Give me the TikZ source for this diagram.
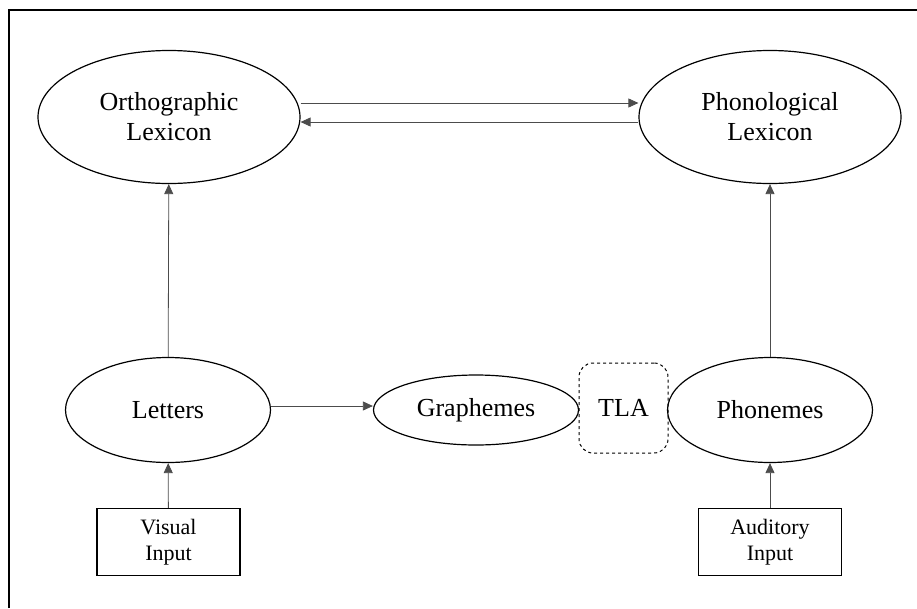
\documentclass[tikz,border=0pt]{standalone}
\usepackage{fontspec}
\setmainfont{Liberation Serif}
\usetikzlibrary{shapes.geometric,arrows.meta}

\tikzset{
  lex/.style={ellipse,draw,line width=1.2pt,inner sep=0pt,align=center,
    font=\fontsize{26}{30}\selectfont},
  inbox/.style={rectangle,draw,line width=1.3pt,minimum width=143pt,minimum height=67pt,
    align=center,font=\fontsize{22}{26}\selectfont},
  link/.style={draw=black!70,line width=0.8pt,-{Triangle[length=10pt,width=9pt]}}
}

\begin{document}
\begin{tikzpicture}[x=1pt,y=-1pt]
        \useasboundingbox (0,0) rectangle (917,608);
        \draw[line width=1.3pt] (9,608) -- (9,10) -- (917,10);

        \node[lex,minimum width=262pt,minimum height=133pt] (ortho) at (169,117) {Orthographic\\Lexicon};
        \node[lex,minimum width=262pt,minimum height=133pt] (phono) at (770,117) {Phonological\\Lexicon};
        \node[lex,minimum width=205pt,minimum height=105pt] (letters) at (168,410) {Letters};
        \node[lex,minimum width=205pt,minimum height=70pt] (graph) at (476,410) {Graphemes};
        \node[lex,minimum width=205pt,minimum height=105pt] (phonemes) at (770,410) {Phonemes};
        \node[draw,dashed,line width=1pt,rounded corners=14pt,minimum width=89pt,minimum height=90pt,
              font=\fontsize{26}{30}\selectfont] (tla) at (623.5,408) {TLA};
        \node[inbox] (visual) at (168.5,542) {Visual\\Input};
        \node[inbox] (audit) at (770,542) {Auditory\\Input};

        \draw[link] (ortho.east |- 0,103) -- (phono.west |- 0,103);
        \draw[link] (phono.west |- 0,122) -- (ortho.east |- 0,122);
        \draw[link] (letters) -- (ortho);
        \draw[link] (phonemes) -- (phono);
        \draw[link] (letters.east |- 0,406) -- (graph.west |- 0,406);
        \draw[link] (visual) -- (letters);
        \draw[link] (audit) -- (phonemes);
\end{tikzpicture}
\end{document}
